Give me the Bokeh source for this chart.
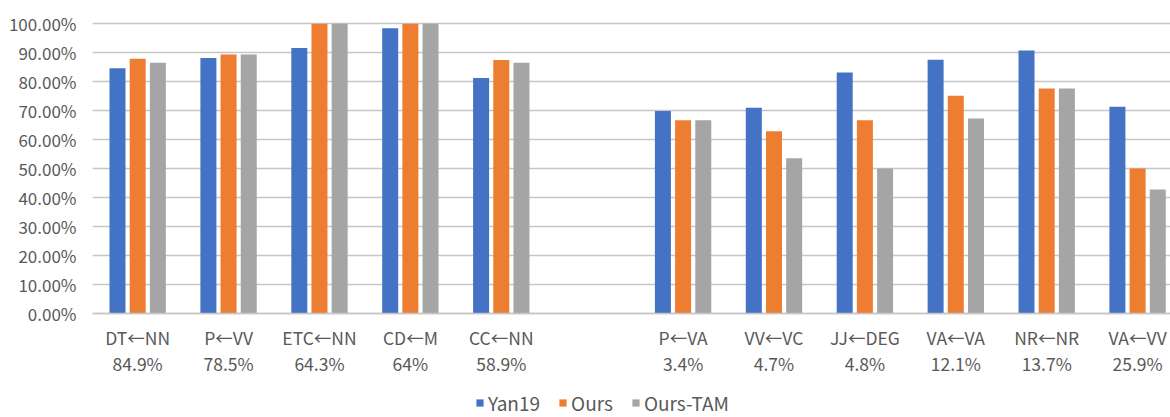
from bokeh.plotting import figure
from bokeh.models import (ColumnDataSource, FixedTicker, NumeralTickFormatter,
                          CustomJSTickFormatter, Legend, LegendItem, Range1d)
from bokeh.transform import dodge
from bokeh.embed import file_html
from bokeh.resources import INLINE

# ---- data ----
categories = ["DT←NN", "P←VV", "ETC←NN", "CD←M", "CC←NN",
              "P←VA", "VV←VC", "JJ←DEG", "VA←VA", "NR←NR", "VA←VV"]
shares = ["84.9%", "78.5%", "64.3%", "64%", "58.9%",
          "3.4%", "4.7%", "4.8%", "12.1%", "13.7%", "25.9%"]
yan19 = [0.846, 0.882, 0.916, 0.985, 0.813, 0.699, 0.710, 0.832, 0.876, 0.908, 0.713]
ours = [0.879, 0.894, 1.000, 1.000, 0.875, 0.667, 0.629, 0.667, 0.751, 0.776, 0.500]
ours_tam = [0.865, 0.894, 1.000, 1.000, 0.865, 0.667, 0.535, 0.500, 0.673, 0.776, 0.427]
series_names = ["Yan19", "Ours", "Ours-TAM"]
y_ticks = [0.0, 0.1, 0.2, 0.3, 0.4, 0.5, 0.6, 0.7, 0.8, 0.9, 1.0]

# ---- layout helpers ----
GAP_AFTER = 5  # one empty slot after the fifth category
positions = [i if i < GAP_AFTER else i + 1 for i in range(len(categories))]

FONT = "Noto Sans CJK SC"
TXT = "#595959"
GRID = "#c6c6c6"
colors = ["#4472C4", "#ED7D31", "#A5A5A5"]

src = ColumnDataSource(dict(x=positions, yan19=yan19, ours=ours, tam=ours_tam))

# the frame reaches the bottom of the canvas; the x axis sits at y = 0
p = figure(width=1170, height=417, output_backend="svg", toolbar_location=None,
           x_range=Range1d(-0.497, 11.362), y_range=Range1d(-0.3604, 1.0252),
           min_border_left=92, min_border_right=0, min_border_top=16,
           min_border_bottom=0)
p.outline_line_color = None
p.background_fill_color = "white"
p.border_fill_color = "white"

W = 0.176
D = 0.222
r1 = p.vbar(x=dodge("x", -D, range=p.x_range), top="yan19", width=W, source=src,
            fill_color=colors[0], line_color=None)
r2 = p.vbar(x=dodge("x", 0, range=p.x_range), top="ours", width=W, source=src,
            fill_color=colors[1], line_color=None)
r3 = p.vbar(x=dodge("x", D, range=p.x_range), top="tam", width=W, source=src,
            fill_color=colors[2], line_color=None)

# grid
p.xgrid.grid_line_color = None
p.ygrid.grid_line_color = GRID
p.ygrid.grid_line_width = 1.5
p.ygrid.ticker = FixedTicker(ticks=y_ticks)

# y axis
p.yaxis.ticker = FixedTicker(ticks=y_ticks)
p.yaxis.formatter = NumeralTickFormatter(format="0.00%")
p.yaxis.axis_line_color = None
p.yaxis.major_tick_line_color = None
p.yaxis.minor_tick_line_color = None
p.yaxis.major_tick_out = 0
p.yaxis.major_label_standoff = 16
p.yaxis.major_label_text_font = FONT
p.yaxis.major_label_text_font_size = "17px"
p.yaxis.major_label_text_color = TXT

# x axis (two-line category labels), pinned at y = 0
p.xaxis.fixed_location = 0
p.xaxis.ticker = FixedTicker(ticks=positions)
p.xaxis.formatter = CustomJSTickFormatter(
    args=dict(pos=positions, names=categories, shares=shares),
    code="""
const i = pos.indexOf(Math.round(tick));
return i < 0 ? "" : names[i] + "\\n" + shares[i];
""")
p.xaxis.axis_line_color = GRID
p.xaxis.axis_line_width = 1.5
p.xaxis.major_tick_line_color = None
p.xaxis.minor_tick_line_color = None
p.xaxis.major_tick_out = 0
p.xaxis.major_label_standoff = 12
p.xaxis.major_label_text_font = FONT
p.xaxis.major_label_text_font_size = "17.5px"
p.xaxis.major_label_text_color = TXT
p.xaxis.major_label_text_line_height = 1.05

legend = Legend(items=[LegendItem(label=series_names[0], renderers=[r1]),
                       LegendItem(label=series_names[1], renderers=[r2]),
                       LegendItem(label=series_names[2], renderers=[r3])],
                orientation="horizontal", location=(383, 1),
                margin=0, padding=0, spacing=18,
                glyph_width=9, glyph_height=9, label_standoff=4,
                label_text_font=FONT, label_text_font_size="19px",
                label_text_color=TXT, label_height=20,
                border_line_color=None, background_fill_alpha=0)
p.add_layout(legend, "center")

open("out.html", "w").write(file_html(p, INLINE))
